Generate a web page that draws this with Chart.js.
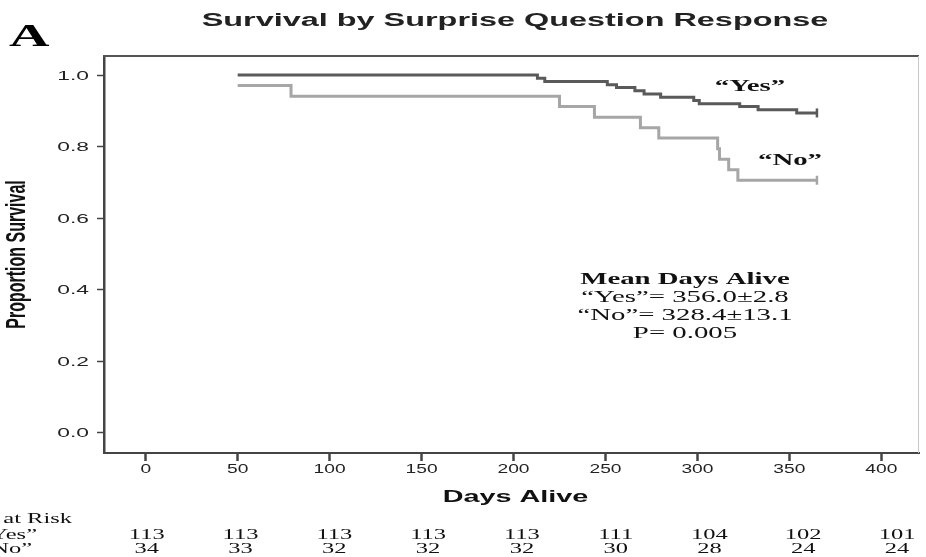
<!DOCTYPE html>
<html lang="en">
<head>
<meta charset="utf-8">
<title>Survival by Surprise Question Response</title>
<script src="https://cdn.jsdelivr.net/npm/chart.js@4.4.1/dist/chart.umd.min.js"></script>
<style>
  html, body { margin: 0; padding: 0; background: #fff; }
  #wrap { width: 926px; height: 557px; }
</style>
</head>
<body>
<div id="wrap"><canvas id="survivalChart" width="926" height="557"></canvas></div>
<script>
// Kaplan-Meier steps (day, proportion surviving)
const yesDays = [50, 213, 217, 251, 256, 266, 271, 280, 298, 301, 323, 333, 354, 365];
const yesSurvival = [1.0, 0.991, 0.982, 0.973, 0.965, 0.956, 0.947, 0.938, 0.929, 0.920, 0.912, 0.903, 0.894, 0.894];
const noDays = [50, 79, 225, 244, 269, 279, 311, 312, 317, 322, 365];
const noSurvival = [0.971, 0.941, 0.912, 0.882, 0.853, 0.824, 0.794, 0.765, 0.735, 0.706, 0.706];
const censorDay = 365;

const xTicks = [0, 50, 100, 150, 200, 250, 300, 350, 400];
const yTicks = [0.0, 0.2, 0.4, 0.6, 0.8, 1.0];

// Number at risk table under the plot
const riskDays = [0, 50, 100, 150, 200, 250, 300, 350, 400];
const riskYes = [113, 113, 113, 113, 113, 111, 104, 102, 101];
const riskNo = [34, 33, 32, 32, 32, 30, 28, 24, 24];

const statsTitle = 'Mean Days Alive';
const statsLines = ['\u201CYes\u201D= 356.0\u00B12.8', '\u201CNo\u201D= 328.4\u00B113.1', 'P= 0.005'];

const YES_COLOR = '#5a5a5a';
const NO_COLOR = '#a6a6a6';
const SANS = '"Liberation Sans", Arial, sans-serif';
const SERIF = '"Liberation Serif", "Times New Roman", serif';
const SX = 1.8; // the source figure is stretched sideways, text too

function stretchText(ctx, str, x, y, font, align, sx = SX, color = '#111') {
    ctx.save();
    ctx.font = font;
    ctx.fillStyle = color;
    ctx.textAlign = 'left';
    ctx.textBaseline = 'alphabetic';
    const w = ctx.measureText(str).width * sx;
    const left = align === 'center' ? x - w / 2 : align === 'right' ? x - w : x;
    ctx.translate(left, y);
    ctx.scale(sx, 1);
    ctx.fillText(str, 0, 0);
    ctx.restore();
}

const decorations = {
    id: 'decorations',
    beforeDraw(chart) {
        const { ctx } = chart;
        ctx.save();
        ctx.fillStyle = '#fff';
        ctx.fillRect(0, 0, chart.width, chart.height);
        ctx.restore();
    },
    afterDraw(chart) {
        const { ctx, chartArea: a, scales: { x, y } } = chart;

        // frame: top and right edges of the plot box
        ctx.save();
        ctx.strokeStyle = '#555';
        ctx.lineWidth = 2;
        ctx.beginPath(); ctx.moveTo(a.left - 1, a.top); ctx.lineTo(a.right, a.top); ctx.stroke();
        ctx.strokeStyle = '#c8c8c8';
        ctx.lineWidth = 1;
        ctx.beginPath(); ctx.moveTo(a.right - 0.5, a.top); ctx.lineTo(a.right - 0.5, a.bottom); ctx.stroke();
        ctx.restore();

        // tick labels
        yTicks.forEach(v => stretchText(ctx, v.toFixed(1), a.left - 15, y.getPixelForValue(v) + 4.5, '12px ' + SANS, 'right', 1.9, '#222'));
        xTicks.forEach(v => stretchText(ctx, String(v), x.getPixelForValue(v), a.bottom + 20, '12px ' + SANS, 'center', 1.6, '#222'));

        // axis titles
        stretchText(ctx, 'Days Alive', (a.left + a.right) / 2 + 4, 502, 'bold 16px ' + SANS, 'center');
        ctx.save();
        ctx.translate(17, (a.top + a.bottom) / 2);
        ctx.scale(1.75, 1);
        ctx.rotate(-Math.PI / 2);
        ctx.font = 'bold 16px ' + SANS;
        ctx.fillStyle = '#111';
        ctx.textAlign = 'center';
        ctx.textBaseline = 'middle';
        ctx.fillText('Proportion Survival', 0, 0);
        ctx.restore();

        // title and panel letter
        stretchText(ctx, 'Survival by Surprise Question Response', 515, 26, 'bold 18px ' + SANS, 'center', SX, '#222');
        stretchText(ctx, 'A', 9, 46, 'bold 32px ' + SERIF, 'left', 1.75, '#000');

        // curve labels
        stretchText(ctx, '\u201CYes\u201D', 750, 91, 'bold 16px ' + SERIF, 'center');
        stretchText(ctx, '\u201CNo\u201D', 790, 165, 'bold 16px ' + SERIF, 'center');

        // mean days alive box
        stretchText(ctx, statsTitle, 685, 284, 'bold 16px ' + SERIF, 'center');
        statsLines.forEach((s, i) => stretchText(ctx, s, 685, 302 + i * 18, '16px ' + SERIF, 'center'));

        // number at risk
        const riskFont = '14px ' + SERIF;
        stretchText(ctx, 'Number at Risk', 72, 523, riskFont, 'right', 1.75);
        stretchText(ctx, '\u201CYes\u201D', 37, 539, riskFont, 'right', 1.75);
        stretchText(ctx, '\u201CNo\u201D', 32, 553, riskFont, 'right', 1.75);
        riskDays.forEach((d, i) => {
            const px = x.getPixelForValue(d * 1.02) + 1;
            stretchText(ctx, String(riskYes[i]), px, 539, riskFont, 'center', 1.75);
            stretchText(ctx, String(riskNo[i]), px, 553, riskFont, 'center', 1.75);
        });
    }
};

const toPoints = (days, vals) => days.map((d, i) => ({ x: d, y: vals[i] }));

new Chart(document.getElementById('survivalChart'), {
    type: 'line',
    data: {
        datasets: [
            {
                label: '\u201CYes\u201D',
                data: toPoints(yesDays, yesSurvival),
                borderColor: YES_COLOR,
                borderWidth: 3,
                stepped: 'before',
                pointRadius: 0,
                fill: false
            },
            {
                label: '\u201CNo\u201D',
                data: toPoints(noDays, noSurvival),
                borderColor: NO_COLOR,
                borderWidth: 3,
                stepped: 'before',
                pointRadius: 0,
                fill: false
            },
            {
                type: 'scatter',
                label: 'censored',
                data: [
                    { x: censorDay, y: yesSurvival[yesSurvival.length - 1] },
                    { x: censorDay, y: noSurvival[noSurvival.length - 1] }
                ],
                pointStyle: 'line',
                pointRotation: 90,
                pointRadius: 4.5,
                pointBorderWidth: 2.5,
                pointBorderColor: [YES_COLOR, NO_COLOR]
            }
        ]
    },
    options: {
        responsive: false,
        animation: false,
        devicePixelRatio: 1,
        layout: { padding: { left: 97, top: 56, right: 2, bottom: 96 } },
        plugins: { legend: { display: false }, tooltip: { enabled: false } },
        scales: {
            x: {
                type: 'linear',
                min: -22.7,
                max: 420.5,
                afterBuildTicks: s => { s.ticks = xTicks.map(v => ({ value: v })); },
                afterFit: s => { s.height = 8; },
                ticks: { display: false },
                grid: { drawOnChartArea: false, drawTicks: true, tickLength: 8, tickWidth: 2.5, tickColor: '#444' },
                border: { color: '#444', width: 2 }
            },
            y: {
                type: 'linear',
                min: -0.0559,
                max: 1.0531,
                afterBuildTicks: s => { s.ticks = yTicks.map(v => ({ value: v })); },
                afterFit: s => { s.width = 7; },
                ticks: { display: false },
                grid: { drawOnChartArea: false, drawTicks: true, tickLength: 7, tickWidth: 1.5, tickColor: '#444' },
                border: { color: '#444', width: 2.5 }
            }
        }
    },
    plugins: [decorations]
});
</script>
</body>
</html>
